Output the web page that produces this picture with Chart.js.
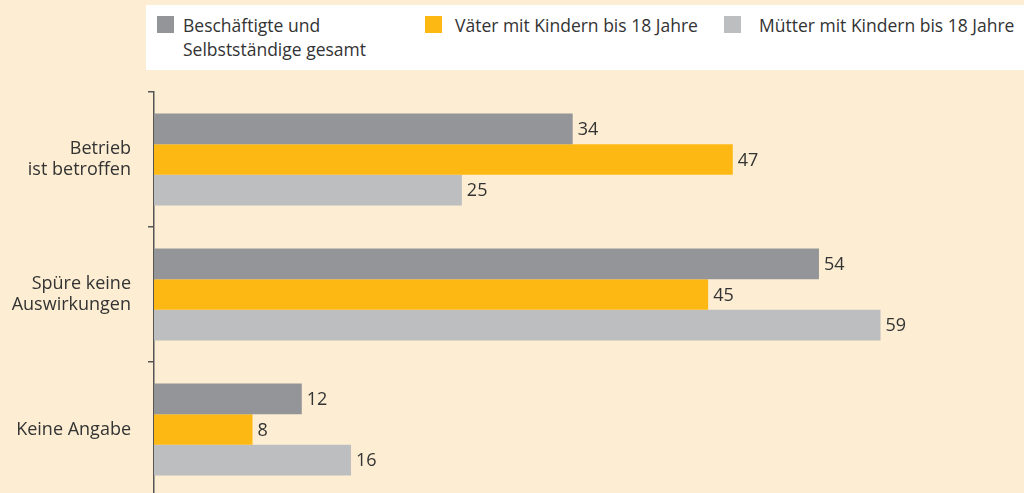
<!DOCTYPE html>
<html>
<head>
<meta charset="utf-8">
<script src="https://cdn.jsdelivr.net/npm/chart.js@4"></script>
<style>
  html, body { margin: 0; padding: 0; overflow: hidden; background: #fdeed3; }
  #wrap { position: relative; width: 1024px; height: 493px; overflow: hidden; }
  #chart { position: absolute; left: 0; top: 0; }
  #legend {
    position: absolute; left: 146px; top: 5px; width: 878px; height: 65px;
    background: #fff; font-family: "Open Sans", sans-serif; font-size: 17.5px; color: #333;
  }
  .item { position: absolute; top: 8px; line-height: 24px; }
  .item .box { position: absolute; left: 0; top: 3px; width: 17px; height: 17px; }
  .item .txt { position: absolute; white-space: nowrap; }
</style>
</head>
<body>
<div id="wrap">
  <canvas id="chart" width="1024" height="497"></canvas>
  <div id="legend"></div>
</div>
<script>
const categories = [["Betrieb", "ist betroffen"], ["Spüre keine", "Auswirkungen"], "Keine Angabe"];
const seriesNames = [["Beschäftigte und", "Selbstständige gesamt"], ["Väter mit Kindern bis 18 Jahre"], ["Mütter mit Kindern bis 18 Jahre"]];
const gesamt = [34, 54, 12];
const vaeter = [47, 45, 8];
const muetter = [25, 59, 16];
const COLORS = ["#939598", "#fdb813", "#bcbec0"];
const FONT = "'Open Sans', sans-serif";

// -------- Legend (HTML, built from the series names)
const legendPos = [{ box: 11, txt: 37 }, { box: 279, txt: 309 }, { box: 578, txt: 613 }];
const legend = document.getElementById("legend");
seriesNames.forEach((name, i) => {
  const it = document.createElement("div");
  it.className = "item";
  it.style.left = legendPos[i].box + "px";
  it.innerHTML =
    `<div class="box" style="background:${COLORS[i]}"></div>` +
    `<div class="txt" style="left:${legendPos[i].txt - legendPos[i].box}px">${name.join("<br>")}</div>`;
  legend.appendChild(it);
});

// -------- value labels next to the bars
const valueLabels = {
  id: "valueLabels",
  afterDatasetsDraw(chart) {
    const ctx = chart.ctx;
    ctx.save();
    ctx.font = "18px " + FONT;
    ctx.fillStyle = "#333";
    ctx.textAlign = "left";
    ctx.textBaseline = "middle";
    chart.data.datasets.forEach((ds, i) => {
      chart.getDatasetMeta(i).data.forEach((bar, j) => {
        ctx.fillText(ds.data[j], bar.x + 5, bar.y + 1);
      });
    });
    ctx.restore();
  },
};

new Chart(document.getElementById("chart"), {
  type: "bar",
  data: {
    labels: categories,
    datasets: [
      { label: seriesNames[0].join(" "), data: gesamt, backgroundColor: COLORS[0] },
      { label: seriesNames[1].join(" "), data: vaeter, backgroundColor: COLORS[1] },
      { label: seriesNames[2].join(" "), data: muetter, backgroundColor: COLORS[2] },
    ],
  },
  options: {
    indexAxis: "y",
    responsive: false,
    animation: false,
    layout: { padding: { top: 92, right: 8, bottom: 0, left: 0 } },
    categoryPercentage: 0.68,
    barPercentage: 1,
    plugins: { legend: { display: false }, tooltip: { enabled: false } },
    scales: {
      x: { display: false, min: 0, max: 70 },
      y: {
        afterFit(axis) {
          axis.width = 154;
          axis.paddingTop = 0;
          axis.paddingBottom = 0;
        },
        border: { display: true, color: "#555", width: 1.5 },
        grid: { drawOnChartArea: false, drawTicks: true, tickLength: 6, color: "#555", lineWidth: 1.5 },
        ticks: { padding: 17, color: "#333", font: { family: FONT, size: 18 }, lineHeight: 1.3 },
      },
    },
  },
  plugins: [valueLabels],
});
</script>
</body>
</html>
